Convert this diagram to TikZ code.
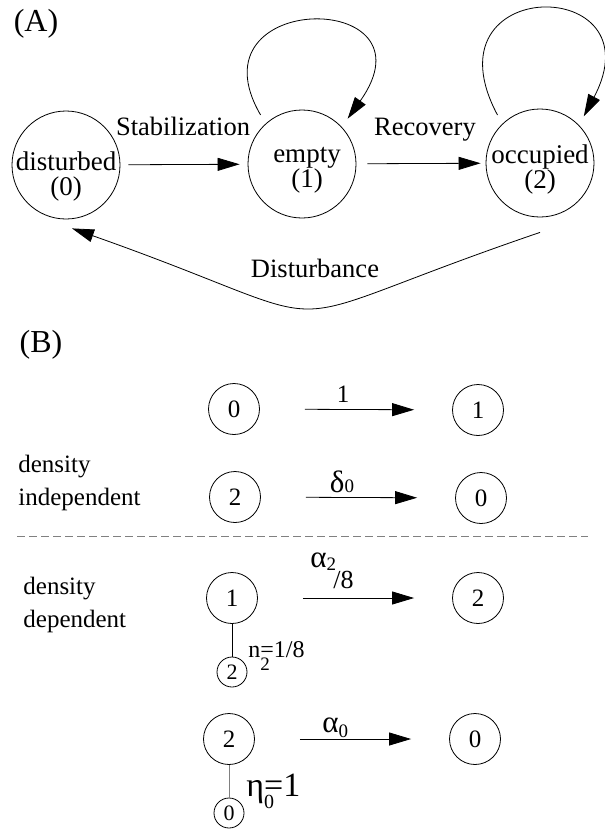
\documentclass[tikz,border=0pt]{standalone}
\usepackage{fontspec}
\setmainfont{Liberation Serif}
\usetikzlibrary{arrows.meta}

\tikzset{
  state/.style={draw, circle, minimum size=108pt, inner sep=0pt},
  statetext/.style={align=center, inner sep=0pt, font=\fontsize{27}{25}\selectfont},
  site/.style={draw, circle, minimum size=51pt, inner sep=0pt,
    font=\fontsize{25}{25}\selectfont},
  nbr/.style={draw, circle, minimum size=30pt, inner sep=0pt,
    font=\fontsize{22}{22}\selectfont},
  arr/.style={-{Triangle[length=22pt,width=13pt]}},
  rate/.style={arr, shorten <=45pt, shorten >=38pt},
  lbl/.style={font=\fontsize{26.5}{27}\selectfont, anchor=base},
  panel/.style={font=\fontsize{32}{32}\selectfont},
  kind/.style={anchor=north west, inner sep=0pt, align=left,
    font=\fontsize{25}{33}\selectfont}
}

\begin{document}
\begin{tikzpicture}[x=1pt, y=-1pt, line width=0.8pt]
\useasboundingbox (0,0) rectangle (605,831);

% (A)
\node[panel] (pa) at (36,24) {(A)};
\node[state, label={[statetext, yshift=-12pt]center:disturbed\\(0)}] (dist) at (66,165) {};
\node[state, label={[statetext, yshift=-6pt, xshift=5pt]center:empty\\(1)}] (empty) at (302,164) {};
\node[state, label={[statetext, yshift=-7pt]center:occupied\\(2)}] (occ) at (540,163) {};

\draw[arr, shorten <=8pt, shorten >=8pt] (dist) -- (empty);
\draw[arr, shorten <=11pt, shorten >=5pt] (empty) -- (occ);
\draw[arr, shorten <=10pt, shorten >=10pt] (empty.132) .. controls +(-78,-134) and +(98,-138) .. (empty.43);
\draw[arr, shorten <=10pt, shorten >=10pt] (occ.134) .. controls +(-80,-150) and +(80,-151) .. (occ.44);
\draw[arr] ([yshift=-15pt]occ.south) .. controls (242,334) and (371,334) .. ([yshift=-9pt,xshift=6pt]dist.south);

\node[lbl] (stab) at (183,135) {Stabilization};
\node[lbl] (reco) at (425,135) {Recovery};
\node[lbl] (dstb) at (315,277) {Disturbance};

% (B)
\node[panel] (pb) at (41,345) {(B)};
\node[kind] (indep) at (18,455) {density\\independent};
\node[kind] (dep) at (23,577) {density\\dependent};
\draw[gray, dashed, dash pattern=on 8pt off 4pt] (17,536) -- (588,536);

\node[site] (b10) at (234,409) {0};
\node[site] (b11) at (478,410) {1};
\node[site] (b20) at (235,497) {2};
\node[site] (b21) at (481,498) {0};
\node[site] (b30) at (232,598) {1};
\node[site] (b31) at (478,598) {2};
\node[site] (b40) at (229,739) {2};
\node[site] (b41) at (475,739) {0};
\node[nbr] (n30) at (232,672) {2};
\node[nbr] (n40) at (229,813) {0};

\draw[rate] (b10) -- (b11);
\draw[rate] (b20) -- (b21);
\draw[rate] (b30) -- (b31);
\draw[rate] (b40) -- (b41);
\draw (b30) -- (n30);
\draw[gray] (b40) -- (n40);

\node[anchor=base, font=\fontsize{25}{25}\selectfont] (r1) at (343,402) {1};
\node[anchor=base, font=\fontsize{31}{31}\selectfont] (r2) at (342,492) {δ{\fontsize{19}{19}\selectfont 0}};
\node[anchor=base west, inner sep=0pt, font=\fontsize{31}{31}\selectfont] (r3) at (310,567)
  {α\raisebox{-3pt}{\fontsize{19}{19}\selectfont 2}};
\node[anchor=base west, inner sep=0pt, font=\fontsize{26}{26}\selectfont] (r3b) at (333,588) {/8};
\node[anchor=base west, inner sep=0pt, font=\fontsize{31}{31}\selectfont] (r4) at (322,732)
  {α\raisebox{-5pt}{\fontsize{19}{19}\selectfont 0}};
\node[anchor=base west, inner sep=0pt, font=\fontsize{24}{24}\selectfont] (e3) at (248,657)
  {n\rlap{\raisebox{-13pt}{\fontsize{19}{19}\selectfont 2}}=1/8};
\node[anchor=base west, inner sep=0pt, font=\fontsize{34}{34}\selectfont] (e4) at (246,796)
  {η\rlap{\raisebox{-12pt}{\fontsize{20}{20}\selectfont 0}}=1};
\end{tikzpicture}
\end{document}
